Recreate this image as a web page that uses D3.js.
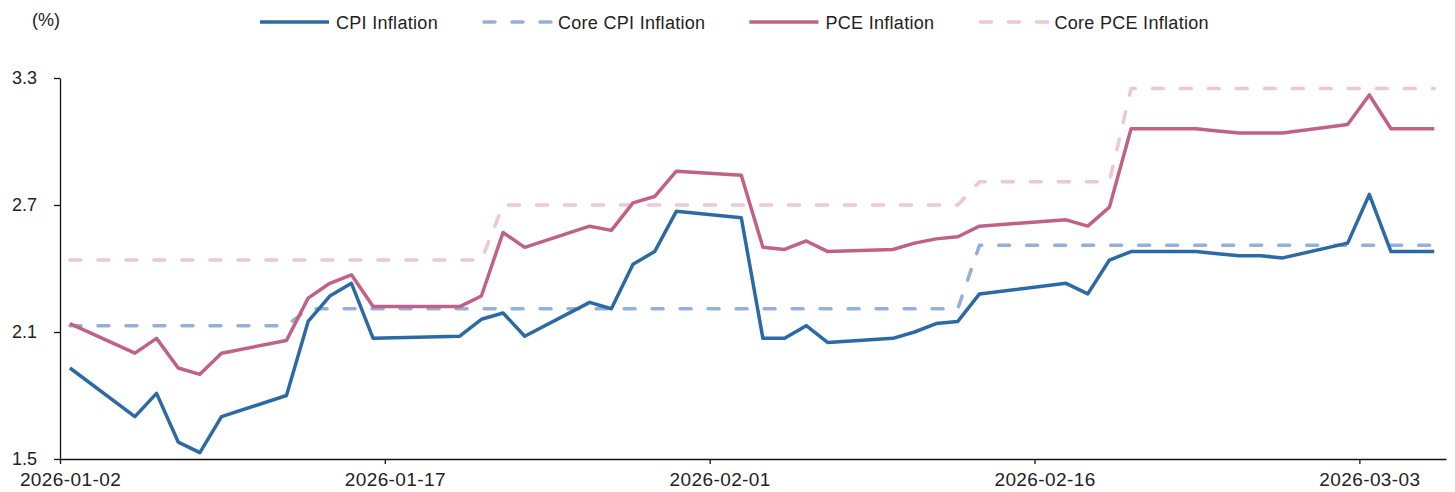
<!DOCTYPE html>
<html>
<head>
<meta charset="utf-8">
<script src="https://cdn.jsdelivr.net/npm/d3@7"></script>
<style>
    body { margin: 0; background: #fff; }
    text { font-family: "Liberation Sans", Arial, sans-serif; fill: #222; }
</style>
</head>
<body>
<div id="chart"></div>
<script>
// Business days (US market calendar)
const dates = [
    "2026-01-02", "2026-01-05", "2026-01-06", "2026-01-07", "2026-01-08", "2026-01-09",
    "2026-01-12", "2026-01-13", "2026-01-14", "2026-01-15", "2026-01-16",
    "2026-01-20", "2026-01-21", "2026-01-22", "2026-01-23",
    "2026-01-26", "2026-01-27", "2026-01-28", "2026-01-29", "2026-01-30",
    "2026-02-02", "2026-02-03", "2026-02-04", "2026-02-05", "2026-02-06",
    "2026-02-09", "2026-02-10", "2026-02-11", "2026-02-12", "2026-02-13",
    "2026-02-17", "2026-02-18", "2026-02-19", "2026-02-20",
    "2026-02-23", "2026-02-24", "2026-02-25", "2026-02-26", "2026-02-27",
    "2026-03-02", "2026-03-03", "2026-03-04", "2026-03-05", "2026-03-06"
];

const cpi = [
    1.93, 1.70, 1.81, 1.58, 1.53, 1.70,
    1.80, 2.15, 2.27, 2.33, 2.07,
    2.08, 2.16, 2.19, 2.08,
    2.24, 2.21, 2.42, 2.48, 2.67,
    2.64, 2.07, 2.07, 2.13, 2.05,
    2.07, 2.10, 2.14, 2.15, 2.28,
    2.33, 2.28, 2.44, 2.48,
    2.48, 2.47, 2.46, 2.46, 2.45,
    2.52, 2.75, 2.48, 2.48, 2.48
];

const coreCpi = [
    2.13, 2.13, 2.13, 2.13, 2.13, 2.13,
    2.13, 2.21, 2.21, 2.21, 2.21,
    2.21, 2.21, 2.21, 2.21,
    2.21, 2.21, 2.21, 2.21, 2.21,
    2.21, 2.21, 2.21, 2.21, 2.21,
    2.21, 2.21, 2.21, 2.21, 2.51,
    2.51, 2.51, 2.51, 2.51,
    2.51, 2.51, 2.51, 2.51, 2.51,
    2.51, 2.51, 2.51, 2.51, 2.51
];

const pce = [
    2.14, 2.00, 2.07, 1.93, 1.90, 2.00,
    2.06, 2.26, 2.33, 2.37, 2.22,
    2.22, 2.27, 2.57, 2.50,
    2.60, 2.58, 2.71, 2.74, 2.86,
    2.84, 2.50, 2.49, 2.53, 2.48,
    2.49, 2.52, 2.54, 2.55, 2.60,
    2.63, 2.60, 2.69, 3.06,
    3.06, 3.05, 3.04, 3.04, 3.04,
    3.08, 3.22, 3.06, 3.06, 3.06
];

const corePce = [
    2.44, 2.44, 2.44, 2.44, 2.44, 2.44,
    2.44, 2.44, 2.44, 2.44, 2.44,
    2.44, 2.44, 2.70, 2.70,
    2.70, 2.70, 2.70, 2.70, 2.70,
    2.70, 2.70, 2.70, 2.70, 2.70,
    2.70, 2.70, 2.70, 2.70, 2.81,
    2.81, 2.81, 2.81, 3.25,
    3.25, 3.25, 3.25, 3.25, 3.25,
    3.25, 3.25, 3.25, 3.25, 3.25
];

const xTickLabels = ["2026-01-02", "2026-01-17", "2026-02-01", "2026-02-16", "2026-03-03"];
const yTicks = [1.5, 2.1, 2.7, 3.3];

const series = [
    { name: "CPI Inflation", values: cpi, color: "#2c6aa5", dash: null },
    { name: "Core CPI Inflation", values: coreCpi, color: "#93b1d8", dash: "11,17" },
    { name: "PCE Inflation", values: pce, color: "#c06287", dash: null },
    { name: "Core PCE Inflation", values: corePce, color: "#ebc8d4", dash: "11,17" }
];

// Set up dimensions
const size = { width: 1455, height: 492 };
const margin = { top: 78, right: 9, bottom: 33, left: 60 };

const parseDate = d3.timeParse("%Y-%m-%d");
// observations are stamped late in the morning
const obsTime = d => d3.timeHour.offset(parseDate(d), 11);

const svg = d3.select("#chart").append("svg")
    .attr("width", size.width)
    .attr("height", size.height);

const xScale = d3.scaleTime()
    .domain([parseDate("2026-01-02"), parseDate("2026-03-07")])
    .range([margin.left, size.width - margin.right]);

const yScale = d3.scaleLinear()
    .domain([1.5, 3.3])
    .range([size.height - margin.bottom, margin.top]);

const line = d3.line()
    .x((d, i) => xScale(obsTime(dates[i])))
    .y(d => yScale(d));

// Lines, lighter dashed ones first
[series[3], series[1], series[2], series[0]].forEach(s => {
    svg.append("path")
        .datum(s.values)
        .attr("fill", "none")
        .attr("stroke", s.color)
        .attr("stroke-width", 3.5)
        .attr("stroke-linejoin", "round")
        .attr("stroke-linecap", s.dash ? "round" : "butt")
        .attr("stroke-dasharray", s.dash)
        .attr("d", line);
});

// Axes
const xAxis = svg.append("g")
    .attr("transform", `translate(0, ${size.height - margin.bottom})`)
    .call(d3.axisBottom(xScale)
        .tickValues(xTickLabels.map(parseDate))
        .tickFormat(d3.timeFormat("%Y-%m-%d"))
        .tickSize(5)
        .tickSizeOuter(0)
        .tickPadding(9));
xAxis.selectAll("text")
    .attr("dx", 10)
    .style("font-size", "19px")
    .style("letter-spacing", "0.4px")
    .style("fill", "#222");

const yAxis = svg.append("g")
    .attr("transform", `translate(${margin.left}, 0)`)
    .call(d3.axisLeft(yScale)
        .tickValues(yTicks)
        .tickFormat(d3.format(".1f"))
        .tickSize(6)
        .tickSizeOuter(0)
        .tickPadding(17));
yAxis.selectAll("text")
    .style("font-size", "18px")
    .style("fill", "#222");

[xAxis, yAxis].forEach(ax => {
    ax.select(".domain").attr("stroke", "#111").attr("stroke-width", 1.3);
    ax.selectAll(".tick line").attr("stroke", "#111").attr("stroke-width", 1.3);
});

// Unit label
svg.append("text")
    .attr("x", 32)
    .attr("y", 26)
    .style("font-size", "18px")
    .text("(%)");

// Legend
const legend = svg.append("g").attr("transform", "translate(260, 22)");
let lx = 0;
series.forEach(s => {
    legend.append("line")
        .attr("x1", lx + (s.dash ? 2 : 0))
        .attr("x2", lx + 69)
        .attr("y1", 0)
        .attr("y2", 0)
        .attr("stroke", s.color)
        .attr("stroke-width", 3.5)
        .attr("stroke-linecap", s.dash ? "round" : "butt")
        .attr("stroke-dasharray", s.dash ? "11,17" : null);
    const t = legend.append("text")
        .attr("x", lx + 76)
        .attr("y", 6.5)
        .style("font-size", "18px")
        .style("letter-spacing", "0.3px")
        .text(s.name);
    lx += 76 + t.node().getComputedTextLength() + 44;
});
</script>
</body>
</html>
